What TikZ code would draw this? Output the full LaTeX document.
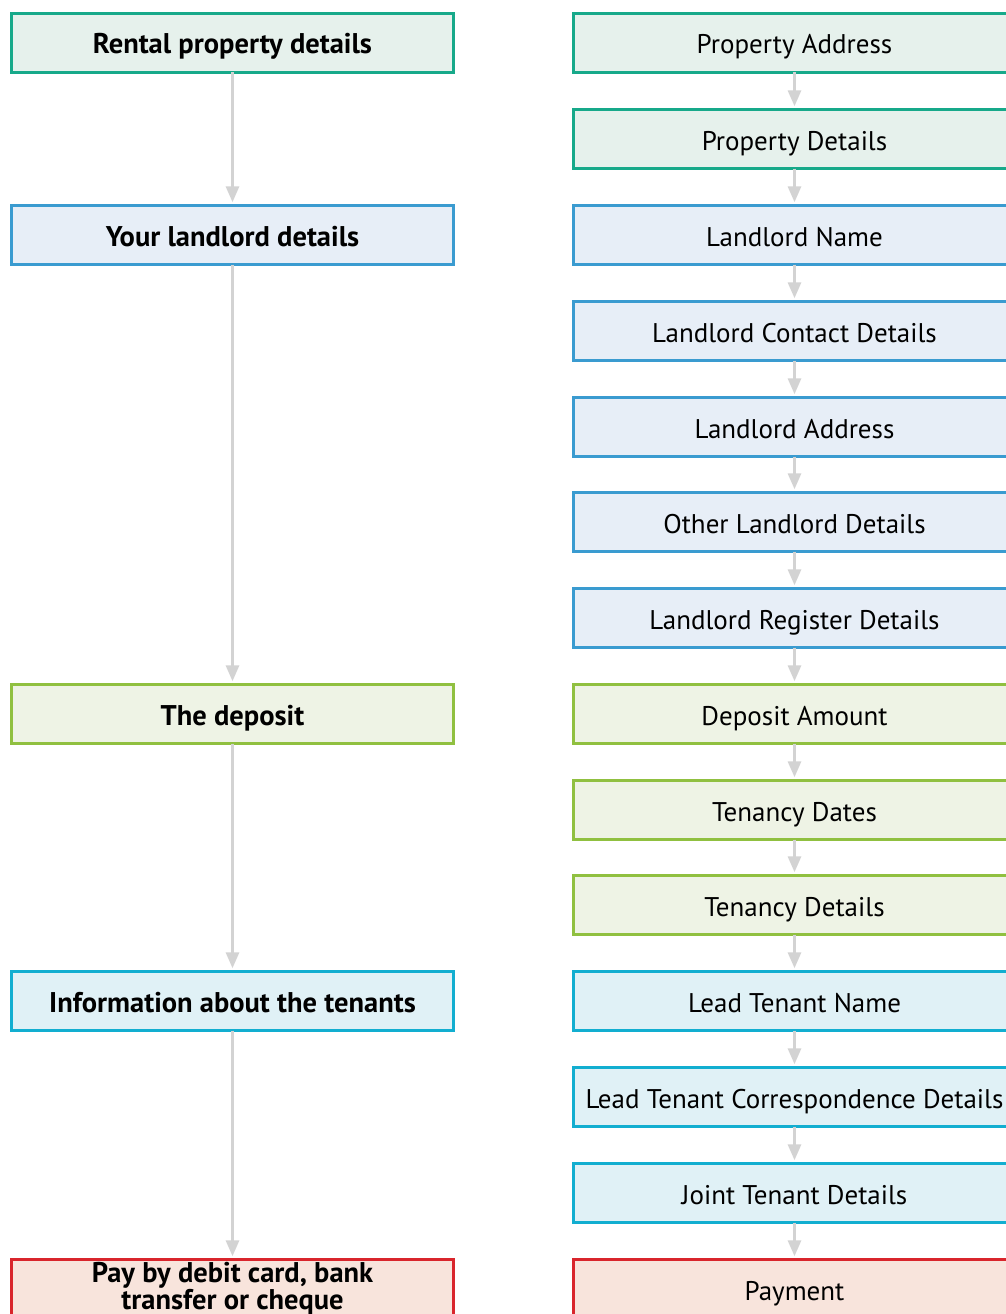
\documentclass[tikz,border=0pt]{standalone}
\usepackage{fontspec}
\setmainfont{PT Sans}
\usetikzlibrary{arrows.meta}
\definecolor{tealB}{HTML}{17A98A}\definecolor{tealF}{HTML}{E6F1EC}
\definecolor{blueB}{HTML}{3A9BD0}\definecolor{blueF}{HTML}{E7EEF7}
\definecolor{oliveB}{HTML}{90C040}\definecolor{oliveF}{HTML}{EEF3E5}
\definecolor{cyanB}{HTML}{12AED0}\definecolor{cyanF}{HTML}{E0F1F6}
\definecolor{redB}{HTML}{D9252C}\definecolor{redF}{HTML}{F8E4DC}
\definecolor{arrowC}{HTML}{D3D3D3}
\tikzset{
  box/.style={draw, line width=2.6pt, minimum width=442.4pt, minimum height=59.4pt, inner sep=0pt, anchor=north west, font=\fontsize{27}{28}\selectfont, align=center, text height=22pt, text depth=0pt},
  lbox/.style={box, font=\fontsize{28.5}{28}\selectfont\bfseries},
  teal/.style={draw=tealB, fill=tealF},
  blu/.style={draw=blueB, fill=blueF},
  oliv/.style={draw=oliveB, fill=oliveF},
  cyn/.style={draw=cyanB, fill=cyanF},
  rd/.style={draw=redB, fill=redF},
  conn/.style={draw=arrowC, line width=3pt, -{Triangle[width=13pt,length=16pt]}, shorten >=3pt}
}
\begin{document}
\begin{tikzpicture}[x=1pt,y=-1pt]
\useasboundingbox (0,0) rectangle (1006,1314);
\begin{scope}
\clip (0,0) rectangle (1006,1314);
% left column
\node[lbox,teal] (l1) at (10,12) {Rental property details};
\node[lbox,blu] (l2) at (10,204) {Your landlord details};
\node[lbox,oliv] (l3) at (10,683) {The deposit};
\node[lbox,cyn] (l4) at (10,970) {Information about the tenants};
\node[lbox,rd,text height={},text depth={},font=\fontsize{28.5}{26}\selectfont\bfseries] (l5) at (10,1258) {Pay by debit card, bank\\transfer or cheque};
% right column
\node[box,teal] (r1) at (572,12) {Property Address};
\node[box,teal] (r2) at (572,108) {Property Details};
\node[box,blu] (r3) at (572,204) {Landlord Name};
\node[box,blu] (r4) at (572,300) {Landlord Contact Details};
\node[box,blu] (r5) at (572,396) {Landlord Address};
\node[box,blu] (r6) at (572,491) {Other Landlord Details};
\node[box,blu] (r7) at (572,587) {Landlord Register Details};
\node[box,oliv] (r8) at (572,683) {Deposit Amount};
\node[box,oliv] (r9) at (572,779) {Tenancy Dates};
\node[box,oliv] (r10) at (572,874) {Tenancy Details};
\node[box,cyn] (r11) at (572,970) {Lead Tenant Name};
\node[box,cyn] (r12) at (572,1066) {Lead Tenant Correspondence Details};
\node[box,cyn] (r13) at (572,1162) {Joint Tenant Details};
\node[box,rd] (r14) at (572,1258) {Payment};
% connectors
\foreach \a/\b in {l1/l2,l2/l3,l3/l4,l4/l5,r1/r2,r2/r3,r3/r4,r4/r5,r5/r6,r6/r7,r7/r8,r8/r9,r9/r10,r10/r11,r11/r12,r12/r13,r13/r14}
  \draw[conn] ([yshift=1.5pt]\a.south) -- ([yshift=-1.3pt]\b.north);
\end{scope}
\end{tikzpicture}
\end{document}
